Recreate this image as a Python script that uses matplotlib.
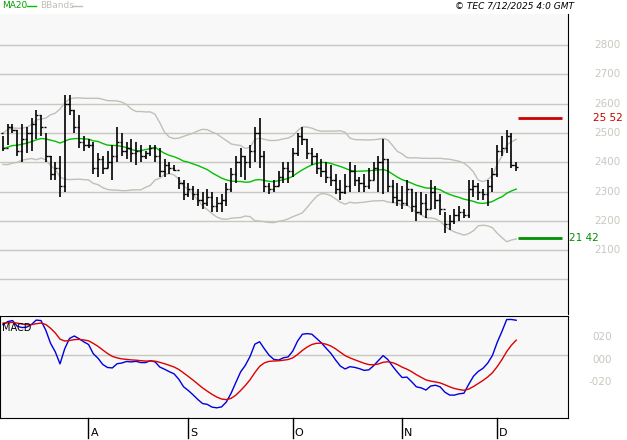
import numpy as np, pandas as pd, matplotlib
matplotlib.use("Agg")
import matplotlib.pyplot as plt

highs = [2490,2530,2530,2510,2530,2520,2550,2580,2560,2500,2420,2400,2420,2630,2630,2580,2560,2490,
 2480,2470,2430,2420,2440,2460,2520,2500,2470,2480,2470,2460,2440,2460,2460,2450,2410,2400,2390,2350,2340,
 2330,2320,2310,2300,2310,2300,2280,2290,2330,2380,2420,2450,2420,2460,2520,2550,2440,2330,2340,2370,2400,2400,
 2450,2500,2520,2480,2450,2430,2410,2400,2390,2360,2340,2360,2400,2390,2350,2360,2380,2400,2420,2480,2410,2340,2330,
 2320,2340,2310,2300,2300,2290,2340,2320,2290,2230,2220,2240,2250,2240,2340,2340,2330,2310,2340,2380,
 2460,2490,2510,2500,2400]
lows = [2440,2460,2500,2420,2400,2430,2440,2480,2490,2400,2340,2340,2280,2300,2560,2500,2450,2440,
 2450,2360,2350,2360,2380,2340,2400,2420,2410,2400,2390,2400,2410,2420,2400,2350,2350,2360,2370,2310,2270,
 2280,2270,2250,2240,2250,2230,2230,2230,2250,2300,2330,2350,2340,2380,2400,2380,2300,2290,2300,2320,2330,2330,
 2350,2420,2460,2410,2390,2360,2350,2330,2320,2290,2270,2290,2300,2320,2300,2300,2310,2340,2300,2290,2300,2260,2250,
 2240,2250,2230,2200,2220,2210,2240,2240,2220,2160,2170,2190,2200,2210,2210,2280,2270,2270,2250,2300,
 2350,2420,2430,2380,2370]
closes = [2450,2520,2510,2440,2480,2500,2530,2560,2520,2420,2360,2380,2320,2600,2580,2520,2470,2460,
 2460,2380,2410,2380,2400,2420,2470,2440,2450,2430,2440,2420,2430,2450,2420,2370,2390,2380,2375,2330,2290,
 2310,2290,2270,2260,2280,2250,2260,2270,2310,2360,2400,2420,2400,2440,2500,2420,2320,2310,2320,2350,2380,2370,
 2430,2490,2480,2430,2420,2380,2370,2350,2340,2310,2300,2320,2370,2340,2330,2320,2340,2380,2400,2410,2320,2280,2270,
 2260,2310,2250,2230,2260,2240,2300,2270,2240,2190,2200,2220,2230,2220,2310,2320,2300,2290,2320,2360,
 2440,2450,2490,2390,2385]
warmup = [2300,2310,2300,2320,2310,2330,2320,2340,2330,2350,2340,2360,2350,2370,2360,2380,2370,2390,2380,2400,
 2390,2410,2400,2420,2410,2430,2420,2440,2430,2450,2440,2460,2440,2470,2450,2480,2460,2490,2470,2500]
month_labels = ["A","S","O","N","D"]
month_idx = [18,39,61,84,104]
resist, support = 25.52, 21.42

h = np.array(highs)/100; l = np.array(lows)/100; c = np.array(closes)/100
allc = pd.Series(np.r_[np.array(warmup)/100, c])
o = np.r_[allc.iloc[len(warmup)-1], c[:-1]]
ma = allc.rolling(20).mean().values[len(warmup):]
sd = allc.rolling(20).std(ddof=0).values[len(warmup):]
macd = (allc.ewm(span=12, adjust=False).mean() - allc.ewm(span=26, adjust=False).mean())
sig = macd.ewm(span=9, adjust=False).mean()
macd = macd.values[len(warmup):]; sig = sig.values[len(warmup):]
x = np.arange(len(c))

fig = plt.figure(figsize=(6.27,4.4), dpi=100, facecolor="white")
bg = "#f8f8f8"; gridc = "#c8c8c0"
ax = fig.add_axes([0, 1-314/440, 568/627, 300/440], facecolor=bg)
ax.set_xlim(-0.63, 118.9); ax.set_ylim(18.82, 29.06)
for v in np.arange(20, 29, 1.0):
    ax.axhline(v, color=gridc, lw=1, zorder=0)
ax.plot(x, ma+2*sd, color="#c0c0b8", lw=1)
ax.plot(x, ma-2*sd, color="#c0c0b8", lw=1)
ax.plot(x, ma, color="#00c000", lw=1)
ax.vlines(x, l, h, color="black", lw=1.2)
ax.hlines(o, x-0.45, x, color="black", lw=1)
ax.hlines(c, x, x+0.45, color="black", lw=1)
ax.hlines(resist, 108.4, 117.7, color="#cc0000", lw=2)
ax.hlines(support, 108.4, 117.7, color="#009000", lw=2)
ax.set_xticks([]); ax.set_yticks([])
for s in ["top","left","bottom"]: ax.spines[s].set_visible(False)
ax.spines["right"].set_color("black")
for v in range(21, 29):
    fig.text(594/627, (1-314/440)+(v-18.82)/10.24*300/440, f"{v}00", color="#c8c8c0",
             fontsize=7.5, va="center", ha="left")
fig.text(593/627, (1-314/440)+(resist-18.82)/10.24*300/440, "25 52", color="#cc0000", fontsize=7.5, va="center")
fig.text(569/627, (1-314/440)+(support-18.82)/10.24*300/440, "21 42", color="#009000", fontsize=7.5, va="center")

ax2 = fig.add_axes([0, 22/440, 568/627, 102/440], facecolor=bg)
ax2.set_xlim(-0.63, 118.9); ax2.set_ylim(-0.57, 0.355)
ax2.axhline(0, color=gridc, lw=1)
ax2.plot(x, macd, color="#0000dd", lw=1)
ax2.plot(x, sig, color="#dd0000", lw=1)
ax2.set_xticks([]); ax2.set_yticks([])
for s in ax2.spines.values(): s.set_color("black")
ax2.text(0.003, 0.93, "MACD", transform=ax2.transAxes, fontsize=7, va="top")
for v, t in [(0.2, "020"), (0.0, "000"), (-0.2, "-020")]:
    fig.text(612/627, 22/440+(v+0.57)/0.925*102/440 - 0.01, t, color="#c8c8c0", fontsize=7.5, va="center", ha="right")
for i, lab in zip(month_idx, month_labels):
    xf = (3+4.75*i)/627
    fig.add_artist(plt.Line2D([xf, xf], [2/440, 22/440], color="black", lw=1))
    fig.text(xf+2/627, 2/440, lab, fontsize=8, va="bottom")

fig.text(2/627, 1-6/440, "MA20", color="#00a000", fontsize=6.5, va="center")
fig.add_artist(plt.Line2D([27/627, 36/627], [1-6/440]*2, color="#00c000", lw=1))
fig.text(40/627, 1-6/440, "BBands", color="#c0c0b8", fontsize=6.5, va="center")
fig.add_artist(plt.Line2D([72/627, 82/627], [1-6/440]*2, color="#c0c0b8", lw=1))
fig.text(574/627, 1-6/440, "© TEC 7/12/2025 4:0 GMT", fontsize=6.5, style="italic", va="center", ha="right")
fig.savefig("out.png", dpi=100, facecolor="white")
